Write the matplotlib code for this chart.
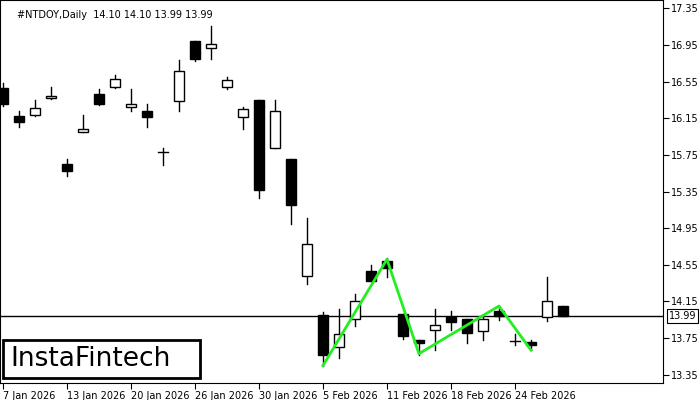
import matplotlib
matplotlib.use("Agg")
import matplotlib.pyplot as plt
from matplotlib.patches import Rectangle

opens  = [16.48,16.17,16.19,16.37,15.65,16.00,16.41,16.49,16.27,16.23,15.78,16.34,16.99,16.92,16.49,16.16,16.35,15.82,15.70,14.43,14.00,13.65,13.96,14.48,14.59,14.01,13.73,13.84,13.98,13.96,13.83,14.05,13.72,13.71,13.98,14.10]
highs  = [16.53,16.23,16.35,16.49,15.71,16.19,16.47,16.62,16.47,16.31,15.82,16.78,16.99,17.16,16.60,16.27,16.35,16.35,15.70,15.06,14.04,14.07,14.23,14.55,14.62,14.01,13.73,14.07,14.05,13.96,13.99,14.10,13.80,13.73,14.42,14.10]
lows   = [16.28,16.05,16.17,16.36,15.52,16.00,16.29,16.48,16.23,16.05,15.64,16.23,16.77,16.80,16.47,16.03,15.28,15.82,14.99,14.34,13.45,13.53,13.88,14.37,14.42,13.74,13.57,13.62,13.84,13.70,13.73,13.95,13.67,13.62,13.94,13.99]
closes = [16.30,16.11,16.26,16.39,15.57,16.03,16.31,16.58,16.31,16.16,15.78,16.66,16.80,16.96,16.57,16.25,15.37,16.23,15.20,14.78,13.57,13.80,14.15,14.37,14.52,13.77,13.70,13.89,13.93,13.81,13.96,13.99,13.72,13.67,14.15,13.99]
date_idx = [0,4,8,12,16,20,24,28,32]
date_labels = ["7 Jan 2026","13 Jan 2026","20 Jan 2026","26 Jan 2026","30 Jan 2026","5 Feb 2026","11 Feb 2026","18 Feb 2026","24 Feb 2026"]
pattern_idx = [20,24,26,31,33]
pattern_val = [13.45,14.61,13.58,14.10,13.62]
yticks = [13.35,13.75,14.15,14.55,14.95,15.35,15.75,16.15,16.55,16.95,17.35]
last = 13.99

fig = plt.figure(figsize=(7,4), dpi=100)
ax = fig.add_axes([0.0, 0.0425, 0.947, 0.9575])
w = 0.6
for i,(o,h,l,c) in enumerate(zip(opens,highs,lows,closes)):
    ax.plot([i,i],[l,h],color='black',lw=1,zorder=2)
    lo, hi = min(o,c), max(o,c)
    fc = 'black' if c < o else 'white'
    if hi-lo < 0.005:
        ax.plot([i-w/2,i+w/2],[o,o],color='black',lw=1,zorder=3)
    else:
        ax.add_patch(Rectangle((i-w/2,lo),w,hi-lo,facecolor=fc,edgecolor='black',lw=1,zorder=3))
ax.axhline(last,color='black',lw=1,zorder=1)
ax.plot(pattern_idx,pattern_val,color='#22ee22',lw=2,zorder=4)
ax.set_xlim(-0.19,41.25)
ax.set_ylim(13.26,17.44)
ax.yaxis.tick_right()
ax.set_yticks(yticks)
ax.set_yticklabels([f"{v:.2f}" for v in yticks],fontsize=7)
ax.set_xticks(date_idx)
ax.set_xticklabels(date_labels,fontsize=7,ha='left')
ax.tick_params(axis='both',direction='out',length=4,pad=2)
ax.annotate(f"{last:.2f}",xy=(1.0,last),xycoords=('axes fraction','data'),xytext=(4,0),textcoords='offset points',
            fontsize=7,va='center',ha='left',bbox=dict(boxstyle='square,pad=0.2',fc='white',ec='black',lw=0.8),annotation_clip=False)
ax.text(0.026,0.975,"#NTDOY,Daily  14.10 14.10 13.99 13.99",transform=ax.transAxes,fontsize=7,va='top')
fig.patches.append(Rectangle((3/700,22/400),197/700,38/400,transform=fig.transFigure,fc='white',ec='black',lw=2,zorder=10))
fig.text(10/700,41/400,"InstaFintech",fontsize=19,va='center',ha='left',zorder=11)
fig.savefig("out.png",dpi=100)
